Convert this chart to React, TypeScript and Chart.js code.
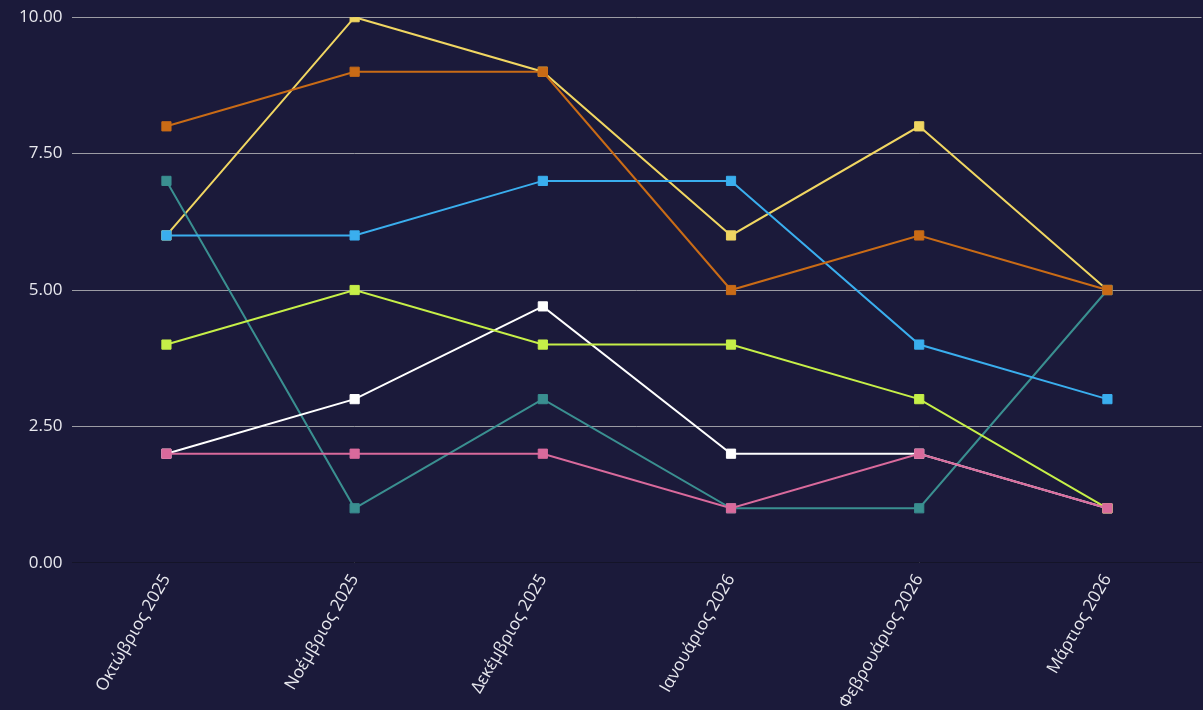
import React, { useEffect, useRef } from "react";
import { Chart, registerables } from "chart.js";

Chart.register(...registerables);

const categories = [
  "Οκτώβριος 2025",
  "Νοέμβριος 2025",
  "Δεκέμβριος 2025",
  "Ιανουάριος 2026",
  "Φεβρουάριος 2026",
  "Μάρτιος 2026",
];

const pinkValues = [2, 2, 2, 1, 2, 1];
const orangeValues = [8, 9, 9, 5, 6, 5];
const blueValues = [6, 6, 7, 7, 4, 3];
const greenValues = [4, 5, 4, 4, 3, 1];
const whiteValues = [2, 3, 4.7, 2, 2, 1];
const tealValues = [7, 1, 3, 1, 1, 5];
const yellowValues = [6, 10, 9, 6, 8, 5];

const seriesNames = ["Σειρά 1", "Σειρά 2", "Σειρά 3", "Σειρά 4", "Σειρά 5", "Σειρά 6", "Σειρά 7"];
const seriesColors = ["#d96a9c", "#c96b16", "#3aaeee", "#c6ef48", "#ffffff", "#3a8f90", "#f0d662"];
const seriesValues = [pinkValues, orangeValues, blueValues, greenValues, whiteValues, tealValues, yellowValues];

const BG = "#1b1a3a";

export default function App() {
  const ref = useRef<HTMLCanvasElement | null>(null);

  useEffect(() => {
    document.body.style.margin = "0";
    document.body.style.overflow = "hidden";
    document.body.style.background = BG;
    const canvas = ref.current;
    if (!canvas) return;
    const chart = new Chart(canvas, {
      type: "line",
      data: {
        labels: categories,
        datasets: seriesValues.map((vals, i) => ({
          label: seriesNames[i],
          data: vals,
          borderColor: seriesColors[i],
          backgroundColor: seriesColors[i],
          borderWidth: 2,
          pointStyle: "rect",
          pointRadius: 6.5,
          pointHoverRadius: 6.5,
          pointBorderWidth: 1,
          tension: 0,
          fill: false,
        })),
      },
      options: {
        responsive: false,
        animation: false,
        maintainAspectRatio: false,
        layout: { padding: { left: 9, right: -4, top: -3, bottom: -2 } },
        plugins: {
          legend: { display: false },
          tooltip: { enabled: false },
        },
        scales: {
          x: {
            offset: true,
            grid: { display: false },
            border: { display: true, color: "#141428", width: 1 },
            ticks: {
              color: "#e8e8ee",
              font: { family: "Open Sans", size: 17 },
              minRotation: 60,
              maxRotation: 60,
              padding: 0,
            },
          },
          y: {
            min: 0,
            max: 10,
            grid: { color: "rgba(200,200,200,0.75)", lineWidth: 1, drawTicks: false },
            border: { display: false },
            ticks: {
              stepSize: 2.5,
              color: "#e8e8ee",
              font: { family: "Open Sans", size: 17 },
              padding: 10,
              callback: (v: any) => Number(v).toFixed(2),
            },
          },
        },
      },
    });
    return () => chart.destroy();
  }, []);

  return (
    <div style={{ width: 1203, height: 710, background: BG, overflow: "hidden" }}>
      <canvas ref={ref} width={1209} height={713} style={{ display: "block", marginTop: -3 }} />
    </div>
  );
}
